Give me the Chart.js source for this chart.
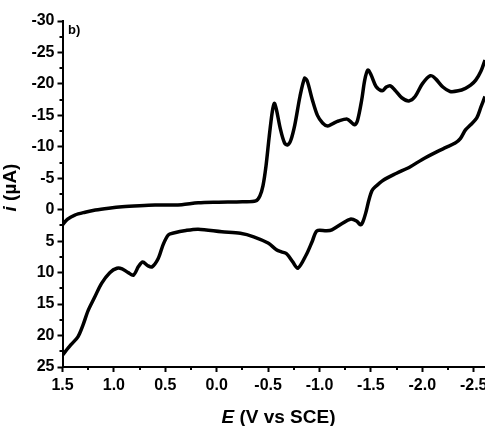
<!DOCTYPE html>
<html>
<head>
<meta charset="utf-8">
<script src="https://cdn.jsdelivr.net/npm/chart.js@4"></script>
<style>
  html, body { margin: 0; padding: 0; background: #fff; overflow: hidden; }
  #wrap { width: 520px; height: 426px; position: relative; }
</style>
</head>
<body>
<div id="wrap"><canvas id="cv"></canvas></div>
<script>
// forward scan (1.5 V -> -2.6 V)
const eForward = [1.5, 1.45, 1.38, 1.28, 1.18, 1.05, 0.92, 0.75, 0.6, 0.45, 0.34, 0.18, 0.0, -0.25, -0.38,
  -0.42, -0.45, -0.48, -0.51, -0.54, -0.56, -0.58, -0.62, -0.66, -0.69, -0.72, -0.76, -0.81, -0.855, -0.88,
  -0.93, -0.98, -1.03, -1.08, -1.13, -1.185, -1.27, -1.31, -1.34, -1.37, -1.41, -1.44, -1.47, -1.50, -1.55,
  -1.61, -1.65, -1.69, -1.74, -1.80, -1.87, -1.93, -2.00, -2.08, -2.13, -2.20, -2.27, -2.35, -2.42, -2.47,
  -2.52, -2.57, -2.61];
const iForward = [2.4, 1.5, 0.85, 0.4, 0.05, -0.25, -0.48, -0.65, -0.75, -0.75, -0.8, -1.1, -1.2, -1.27, -1.4,
  -2.2, -3.8, -7, -11.5, -15.5, -16.9, -16.0, -12.8, -10.6, -10.3, -11.0, -13.5, -18.0, -20.9, -20.5,
  -17.5, -15.0, -13.8, -13.3, -13.7, -14.1, -14.4, -13.9, -13.5, -14.2, -17.4, -20.6, -22.2, -21.5, -19.6,
  -18.9, -19.5, -19.7, -18.9, -17.8, -17.3, -18.0, -20.0, -21.3, -20.8, -19.5, -18.8, -18.9, -19.3, -19.8,
  -20.6, -22.0, -23.8];

// reverse scan (-2.6 V -> 1.5 V)
const eReverse = [-2.61, -2.57, -2.53, -2.47, -2.42, -2.37, -2.32, -2.23, -2.14, -2.0, -1.88, -1.75, -1.62,
  -1.54, -1.51, -1.48, -1.45, -1.42, -1.40, -1.36, -1.30, -1.22, -1.12, -1.07, -0.975, -0.93, -0.87, -0.79,
  -0.74, -0.68, -0.63, -0.585, -0.5, -0.36, -0.23, -0.05, 0.18, 0.3, 0.42, 0.47, 0.52, 0.57, 0.63, 0.67,
  0.72, 0.76, 0.81, 0.86, 0.92, 0.97, 1.04, 1.12, 1.19, 1.25, 1.30, 1.35, 1.42, 1.5];
const iReverse = [-18.0, -16.3, -14.6, -13.5, -12.7, -11.3, -10.6, -9.9, -9.2, -8.0, -6.8, -5.8, -4.7,
  -3.6, -3.0, -1.5, 0.5, 2.0, 2.4, 1.8, 1.5, 2.2, 3.2, 3.35, 3.35, 5.0, 7.2, 9.3,
  8.3, 7.0, 6.7, 6.4, 5.3, 4.3, 3.75, 3.5, 3.1, 3.3, 3.7, 4.0, 5.5, 7.8, 9.1, 8.9,
  8.3, 9.0, 10.4, 10.0, 9.4, 9.3, 10.0, 11.7, 14.0, 16.0, 18.3, 20.2, 21.5, 23.1];

const xTicks = [1.5, 1.0, 0.5, 0.0, -0.5, -1.0, -1.5, -2.0, -2.5];
const xMinor = [1.25, 0.75, 0.25, -0.25, -0.75, -1.25, -1.75, -2.25];
const yTicks = [-30, -25, -20, -15, -10, -5, 0, 5, 10, 15, 20, 25];
const yMinor = [-27.5, -22.5, -17.5, -12.5, -7.5, -2.5, 2.5, 7.5, 12.5, 17.5, 22.5];

const toPoints = (xs, ys) => xs.map((x, k) => ({ x: x, y: ys[k] }));

const FONT = "'Liberation Sans', Arial, sans-serif";

// minor ticks, axis titles and panel label
const extras = {
  id: "extras",
  afterDraw(chart) {
    const ctx = chart.ctx;
    const xs = chart.scales.x, ys = chart.scales.y;
    const area = chart.chartArea;
    ctx.save();
    ctx.strokeStyle = "#000";
    ctx.lineWidth = 2;
    ctx.beginPath();
    yMinor.forEach(v => {
      const p = Math.round(ys.getPixelForValue(v));
      ctx.moveTo(area.left - 3, p);
      ctx.lineTo(area.left, p);
    });
    xMinor.forEach(v => {
      const p = Math.round(xs.getPixelForValue(v));
      ctx.moveTo(p, area.bottom);
      ctx.lineTo(p, area.bottom + 3);
    });
    ctx.stroke();

    ctx.fillStyle = "#000";
    ctx.textBaseline = "alphabetic";
    ctx.textAlign = "left";

    // x title
    const fItal = "italic bold 19px " + FONT;
    const fBold = "bold 19px " + FONT;
    ctx.font = fItal;
    const wE = ctx.measureText("E").width;
    ctx.font = fBold;
    const wRest = ctx.measureText(" (V vs SCE)").width;
    let x0 = 278.5 - (wE + wRest) / 2;
    ctx.font = fItal;
    ctx.fillText("E", x0, 423);
    ctx.font = fBold;
    ctx.fillText(" (V vs SCE)", x0 + wE, 423);

    // y title
    ctx.save();
    ctx.translate(16, 187.5);
    ctx.rotate(-Math.PI / 2);
    ctx.font = fItal;
    const wi = ctx.measureText("i").width;
    ctx.font = fBold;
    const wr = ctx.measureText(" (µA)").width;
    let y0 = -(wi + wr) / 2;
    ctx.font = fItal;
    ctx.fillText("i", y0, 0);
    ctx.font = fBold;
    ctx.fillText(" (µA)", y0 + wi, 0);
    ctx.restore();

    // panel label
    ctx.font = "bold 13px " + FONT;
    ctx.textBaseline = "middle";
    ctx.fillText("b)", 68, 30);
    ctx.restore();
  }
};

const tickFont = { family: FONT, size: 16, weight: "bold" };

new Chart(document.getElementById("cv"), {
  type: "scatter",
  data: {
    datasets: [
      { data: toPoints(eForward, iForward) },
      { data: toPoints(eReverse, iReverse) }
    ]
  },
  options: {
    responsive: true,
    maintainAspectRatio: false,
    animation: false,
    showLine: true,
    layout: { padding: { top: 21, right: 35, left: 0, bottom: 0 } },
    elements: {
      point: { radius: 0, hoverRadius: 0 },
      line: { borderColor: "#000", borderWidth: 3.5, tension: 0.3, fill: false }
    },
    plugins: { legend: { display: false }, tooltip: { enabled: false } },
    scales: {
      x: {
        type: "linear",
        reverse: true,
        min: -2.61,
        max: 1.5,
        afterBuildTicks: (axis) => { axis.ticks = xTicks.map(v => ({ value: v })); },
        afterFit: (scale) => { scale.height = 59; },
        border: { display: true, color: "#000", width: 2 },
        grid: { display: true, drawOnChartArea: false, drawTicks: true, tickLength: 5, tickColor: "#000", tickWidth: 2 },
        ticks: { color: "#000", font: tickFont, padding: 4, maxRotation: 0, autoSkip: false,
          callback: (v) => Number(v).toFixed(1) }
      },
      y: {
        type: "linear",
        reverse: true,
        min: -30,
        max: 25,
        afterBuildTicks: (axis) => { axis.ticks = yTicks.map(v => ({ value: v })); },
        afterFit: (scale) => { scale.width = 62.5; },
        border: { display: true, color: "#000", width: 2 },
        grid: { display: true, drawOnChartArea: false, drawTicks: true, tickLength: 5, tickColor: "#000", tickWidth: 2 },
        ticks: { color: "#000", font: tickFont, padding: 3, autoSkip: false,
          callback: (v) => String(v) }
      }
    }
  },
  plugins: [extras]
});
</script>
</body>
</html>
